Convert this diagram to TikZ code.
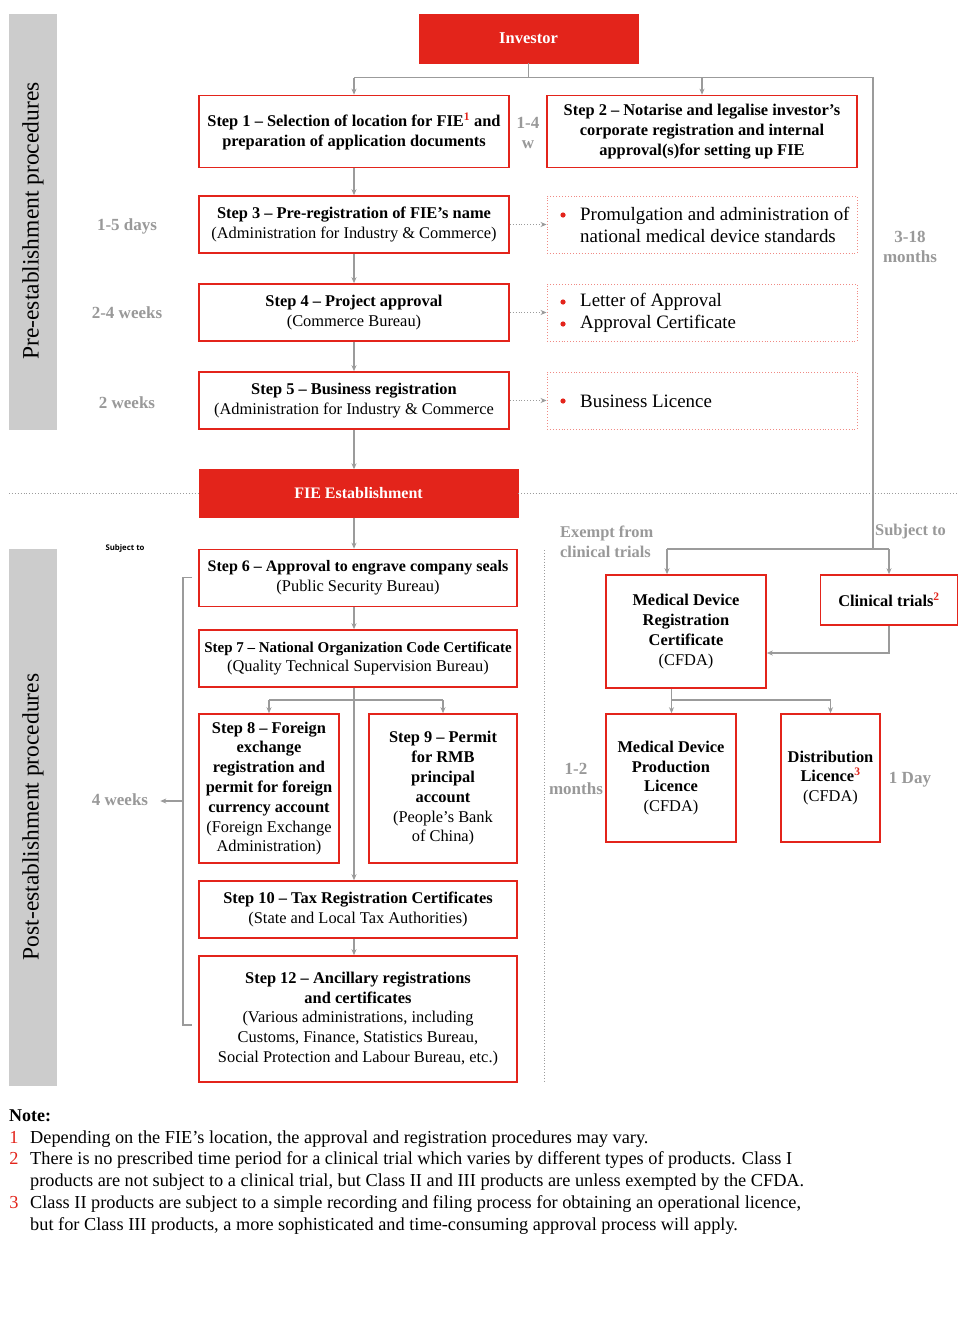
\documentclass[tikz,border=0pt]{standalone}
\usepackage{fontspec}
\setmainfont{Liberation Serif}
\newfontfamily\tinysans{Open Sans}
\usetikzlibrary{arrows.meta}
\definecolor{rd}{HTML}{E3241B}
\definecolor{rdl}{HTML}{F08A84}
\definecolor{gl}{HTML}{9B9B9B}
\definecolor{barc}{HTML}{CCCCCC}
\definecolor{gtxt}{HTML}{999999}
\newcommand\stb[1]{{\bfseries #1}}
\newcommand\rsup[1]{\textsuperscript{\color{rd}#1}}
\begin{document}
\begin{tikzpicture}[x=1pt,y=-1pt,
  stepbox/.style={draw=rd, line width=1.6pt, fill=white, inner sep=0pt, align=center, font=\fontsize{16.4}{19.8}\selectfont},
  redfill/.style={fill=rd, draw=rd, inner sep=0pt, text=white, font=\fontsize{16.5}{18}\selectfont\bfseries},
  dotbox/.style={draw=rdl, dotted, line width=0.9pt, inner sep=0pt},
  conn/.style={draw=gl, line width=1.1pt},
  arr/.style={conn, -{Stealth[length=6pt,width=5pt]}},
  darr/.style={draw=gl, dotted, line width=0.9pt, -{Stealth[length=6pt,width=5pt]}},
  glabel/.style={text=gtxt, font=\fontsize{17}{20}\selectfont\bfseries, align=center, inner sep=0pt},
  bultext/.style={anchor=west, inner sep=0pt, align=left, font=\fontsize{18.9}{22}\selectfont},
  bar/.style={fill=barc, draw=none, inner sep=0pt},
  bartext/.style={rotate=90, inner sep=0pt, font=\fontsize{23.5}{26}\selectfont},
  note/.style={anchor=base west, inner sep=0pt, font=\fontsize{18.3}{22}\selectfont},
  notenum/.style={anchor=base, inner sep=0pt, text=rd, font=\fontsize{18.3}{22}\selectfont},
]
\useasboundingbox[fill=white] (0,0) rectangle (967,1317);

% side bars
\node[bar, minimum width=48pt, minimum height=416pt] (bar1) at (33,222) {};
\node[bartext] (bar1t) at (33,221) {Pre-establishment procedures};
\node[bar, minimum width=48pt, minimum height=537pt] (bar2) at (33,817.5) {};
\node[bartext] (bar2t) at (33,817) {Post-establishment procedures};

% top
\node[redfill, minimum width=219pt, minimum height=49pt] (inv) at (528.5,38.5) {Investor};
\node[stepbox, minimum width=310pt, minimum height=72pt] (s1) at (354,131.5)
  {\stb{Step 1 – Selection of location for FIE\rsup{1} and}\\\stb{preparation of application documents}};
\node[stepbox, minimum width=310pt, minimum height=72pt] (s2) at (702,131.5)
  {\stb{Step 2 – Notarise and legalise investor’s}\\\stb{corporate registration and internal}\\\stb{approval(s)for setting up FIE}};
\node[stepbox, minimum width=310pt, minimum height=57pt] (s3) at (354,224.5)
  {\stb{Step 3 – Pre-registration of FIE’s name}\\(Administration for Industry \& Commerce)};
\node[stepbox, minimum width=310pt, minimum height=57pt] (s4) at (354,312.5)
  {\stb{Step 4 – Project approval}\\(Commerce Bureau)};
\node[stepbox, minimum width=310pt, minimum height=57pt] (s5) at (354,400.5)
  {\stb{Step 5 – Business registration}\\(Administration for Industry \& Commerce};

% dotted boxes
\node[dotbox, minimum width=310pt, minimum height=57pt] (d1) at (702,224.5) {};
\node[dotbox, minimum width=310pt, minimum height=57pt] (d2) at (702,312.5) {};
\node[dotbox, minimum width=310pt, minimum height=57pt] (d3) at (702,400.5) {};
\fill[rd] (563,215) circle (2.6pt);
\node[bultext] (d1t) at (580,225) {Promulgation and administration of\\national medical device standards};
\fill[rd] (563,302) circle (2.6pt);
\fill[rd] (563,324) circle (2.6pt);
\node[bultext] (d2t) at (580,313) {Letter of Approval\\Approval Certificate};
\fill[rd] (563,401) circle (2.6pt);
\node[bultext] (d3t) at (580,401) {Business Licence};

% labels pre
\node[glabel] (l14) at (528,133) {1-4\\w};
\node[glabel] (l15) at (127,226) {1-5 days};
\node[glabel] (l24) at (127,313) {2-4 weeks};
\node[glabel] (l2w) at (127,403) {2 weeks};
\node[glabel] (l318) at (910,247) {3-18\\months};

% FIE
\node[redfill, font=\fontsize{16}{18}\selectfont\bfseries, minimum width=319pt, minimum height=48pt] (fie) at (358.5,493.5) {FIE Establishment};

% post steps
\node[stepbox, minimum width=318pt, minimum height=57pt] (s6) at (358,578)
  {{\fontsize{16}{19.8}\selectfont\bfseries Step 6 – Approval to engrave company seals}\\(Public Security Bureau)};
\node[stepbox, minimum width=318pt, minimum height=57pt] (s7) at (358,658.5)
  {{\fontsize{15}{19.8}\selectfont\bfseries Step 7 – National Organization Code Certificate}\\(Quality Technical Supervision Bureau)};
\node[stepbox, minimum width=140pt, minimum height=149pt] (s8) at (269,788.5)
  {\stb{Step 8 – Foreign}\\\stb{exchange}\\\stb{registration and}\\\stb{permit for foreign}\\\stb{currency account}\\(Foreign Exchange\\Administration)};
\node[stepbox, minimum width=148pt, minimum height=149pt] (s9) at (443,788.5)
  {\stb{Step 9 – Permit}\\\stb{for RMB}\\\stb{principal}\\\stb{account}\\(People’s Bank\\of China)};
\node[stepbox, minimum width=318pt, minimum height=57pt] (s10) at (358,909.5)
  {\stb{Step 10 – Tax Registration Certificates}\\(State and Local Tax Authorities)};
\node[stepbox, minimum width=318pt, minimum height=126pt] (s12) at (358,1019)
  {\stb{Step 12 – Ancillary registrations}\\\stb{and certificates}\\(Various administrations, including\\Customs, Finance, Statistics Bureau,\\Social Protection and Labour Bureau, etc.)};

\node[inner sep=0pt, font=\tinysans\fontsize{7.8}{9}\selectfont\bfseries] (subj) at (125,548) {Subject to};
\node[glabel] (w4) at (120,800) {4 weeks};

% right column
\node[stepbox, minimum width=160pt, minimum height=113pt] (mdrc) at (686,631.5)
  {\stb{Medical Device}\\\stb{Registration}\\\stb{Certificate}\\(CFDA)};
\node[stepbox, minimum width=137pt, minimum height=50pt] (ct) at (889,600)
  {\stb{Clinical trials\rsup{2}}};
\node[stepbox, minimum width=130pt, minimum height=128pt] (mdpl) at (671,778)
  {\stb{Medical Device}\\\stb{Production}\\\stb{Licence}\\(CFDA)};
\node[stepbox, minimum width=99pt, minimum height=128pt] (dl) at (830.5,778)
  {\stb{Distribution}\\\stb{Licence\rsup{3}}\\(CFDA)};
\node[glabel, align=left, anchor=west, font=\fontsize{16.4}{20}\selectfont\bfseries] (ex) at (560,542) {Exempt from\\clinical trials};
\node[glabel, anchor=west, font=\fontsize{16.4}{20}\selectfont\bfseries] (sj) at (875,532) {Subject to};
\node[glabel] (l12) at (576,779) {1-2\\months};
\node[glabel] (l1d) at (910,780) {1 Day};

% coordinates
\coordinate (jl) at (354,77.5);
\coordinate (jr) at (873,77.5);
\coordinate (jm) at (873,549);
\coordinate (ma) at (667,549);
\coordinate (ax) at (354,0);
\coordinate (sj8) at (269,700);
\coordinate (sj9) at (443,700);
\coordinate (cj) at (889,653);
\coordinate (mj) at (671.5,700);
\coordinate (bt) at (192,577.5);
\coordinate (bb) at (192,1025);
\coordinate (bm) at (183,801);

% connectors top
\draw[conn] (inv.south) -- (inv.south |- jl);
\draw[conn] (jl) -- (jr) -- (jm);
\draw[arr] (jl) -- (s1.north);
\draw[arr] (s2.north |- jl) -- (s2.north);
\draw[arr] (s1.south) -- (s3.north);
\draw[arr] (s3.south) -- (s4.north);
\draw[arr] (s4.south) -- (s5.north);
\draw[arr] (s5.south) -- (s5.south |- fie.north);
\draw[darr] (s3.east) -- (d1.west);
\draw[darr] (s4.east) -- (d2.west);
\draw[darr] (s5.east) -- (d3.west);

% dotted separators
\draw[gl, dotted, line width=0.9pt] (9,493.5) -- (fie.west);
\draw[gl, dotted, line width=0.9pt] (fie.east) -- (958,493.5);
\draw[gl, dotted, line width=0.9pt] (544,550) -- (544,1082);

% post connectors
\draw[arr] (fie.south -| ax) -- (s6.north -| ax);
\draw[arr] (s6.south -| ax) -- (s7.north -| ax);
\draw[arr] (s7.south -| ax) -- (s10.north -| ax);
\draw[conn] (sj8) -- (sj9);
\draw[arr] (sj8) -- (s8.north);
\draw[arr] (sj9) -- (s9.north);
\draw[arr] (s10.south -| ax) -- (s12.north -| ax);
\draw[conn] (bt) -- (bt -| bm) -- (bb -| bm) -- (bb);
\draw[arr, shorten >=12pt] (bm) -- (w4.east |- bm);

% right connectors
\draw[conn] (ma) -- (ct.north |- jm);
\draw[arr] (ma) -- (ma |- mdrc.north);
\draw[arr] (ct.north |- jm) -- (ct.north);
\draw[arr] (ct.south) -- (cj) -- (cj -| mdrc.east);
\draw[conn] (mj |- mdrc.south) -- (mj) -- (dl.north |- mj);
\draw[arr] (mj) -- (mj |- mdpl.north);
\draw[arr] (dl.north |- mj) -- (dl.north);

% notes
\node[note, font=\fontsize{18}{22}\selectfont\bfseries] (nt) at (9,1121) {Note:};
\node[notenum] (n1) at (14,1143) {1};
\node[note] (n1t) at (30,1143) {Depending on the FIE’s location, the approval and registration procedures may vary.};
\node[notenum] (n2) at (14,1164) {2};
\node[note] (n2t) at (30,1164) {There is no prescribed time period for a clinical trial which varies by different types of products. Class I};
\node[note] (n2u) at (30,1186) {products are not subject to a clinical trial, but Class II and III products are unless exempted by the CFDA.};
\node[notenum] (n3) at (14,1208) {3};
\node[note] (n3t) at (30,1208) {Class II products are subject to a simple recording and filing process for obtaining an operational licence,};
\node[note] (n3u) at (30,1230) {but for Class III products, a more sophisticated and time-consuming approval process will apply.};
\end{tikzpicture}
\end{document}
